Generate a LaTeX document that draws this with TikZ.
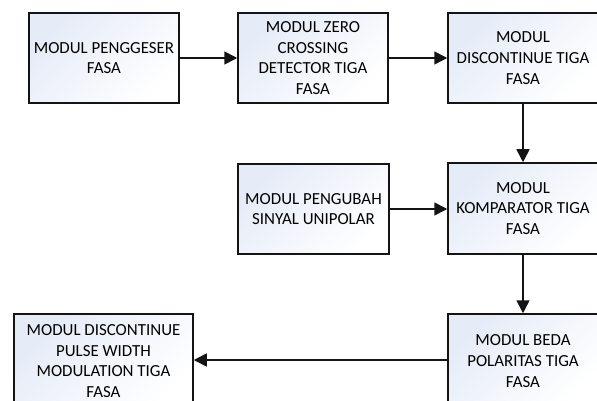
\documentclass[tikz,border=0pt]{standalone}
\usepackage{fontspec}
\setmainfont{Carlito}
\usetikzlibrary{arrows.meta}
\definecolor{boxtl}{RGB}{229,235,247}
\definecolor{linec}{RGB}{20,20,20}
\begin{document}
\begin{tikzpicture}[x=1pt,y=-1pt,
  blk/.style={draw=linec, line width=1.5pt, rectangle, inner sep=0pt,
    minimum width=150pt, minimum height=90pt, align=center,
    top color=boxtl, bottom color=white, shading angle=45,
    font=\fontsize{16.9}{20.6}\selectfont},
  conn/.style={draw=linec, line width=1.6pt, -{Triangle[length=13pt,width=13pt]}}]
\useasboundingbox (0,0) rectangle (597,401);
\clip (0,0) rectangle (597,401);
\node[blk] (b1) at (104,58) {MODUL PENGGESER\\FASA};
\node[blk] (b2) at (313,58) {MODUL ZERO\\CROSSING\\DETECTOR TIGA\\FASA};
\node[blk] (b3) at (523,58) {MODUL\\DISCONTINUE TIGA\\FASA};
\node[blk, minimum height=91pt] (b4) at (523,208.5) {MODUL\\KOMPARATOR TIGA\\FASA};
\node[blk, minimum width=151pt] (b5) at (313.5,209) {MODUL PENGUBAH\\SINYAL UNIPOLAR};
\node[blk, minimum height=94pt] (b6) at (523,361) {MODUL BEDA\\POLARITAS TIGA\\FASA};
\node[blk, minimum width=179pt, minimum height=94pt] (b7) at (103.5,361) {MODUL DISCONTINUE\\PULSE WIDTH\\MODULATION TIGA\\FASA};
\draw[conn] (b1.east) -- (b2.west);
\draw[conn] (b2.east) -- (b3.west);
\draw[conn] (b3.south) -- (b4.north);
\draw[conn] (b5.east) -- (b4.west |- b5.east);
\draw[conn] (b4.south) -- (b6.north);
\draw[conn] (b6.west |- 0,360) -- (b7.east |- 0,360);
\end{tikzpicture}
\end{document}
